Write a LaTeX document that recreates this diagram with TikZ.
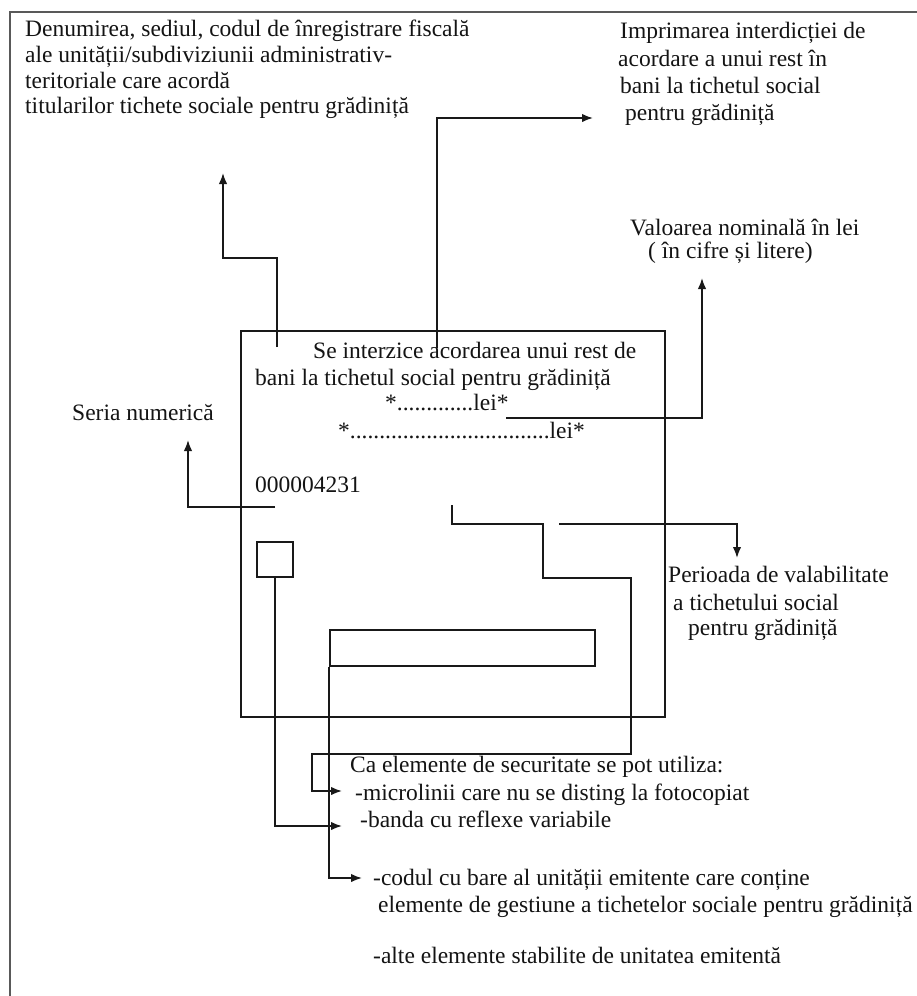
\documentclass[tikz,border=0pt]{standalone}
\usepackage{fontspec}
\setmainfont{Liberation Serif}
\usetikzlibrary{arrows.meta}
\begin{document}
\begin{tikzpicture}[x=1pt,y=-1pt,
  lbl/.style={anchor=west, inner sep=0pt, text height=16pt, text depth=5pt,
    font=\fontsize{23.5}{26}\selectfont, text=black!92},
  conn/.style={line width=1.7pt, draw=black!90, -{Latex[length=11pt,width=8.5pt]}},
  box/.style={draw=black!90, line width=1.7pt, inner sep=0pt}]
\useasboundingbox (0,0) rectangle (917,996);
\fill[white] (0,0) rectangle (917,996);
\draw[line width=2.2pt, black!65] (917,12) -- (10,12) -- (10,996);

% top-left block
\node[lbl] (a1) at (25,31) {Denumirea, sediul, codul de înregistrare fiscală};
\node[lbl] (a2) at (25,57) {ale unității/subdiviziunii administrativ-};
\node[lbl] (a3) at (25,83) {teritoriale care acordă};
\node[lbl] (a4) at (25,108) {titularilor tichete sociale pentru grădiniță};

% top-right block
\node[lbl] (b1) at (620,33) {Imprimarea interdicției de};
\node[lbl] (b2) at (618,61) {acordare a unui rest în};
\node[lbl] (b3) at (620,88) {bani la tichetul social};
\node[lbl] (b4) at (625,115) {pentru grădiniță};

% value
\node[lbl] (v1) at (630,230) {Valoarea nominală în lei};
\node[lbl] (v2) at (648,253) {( în cifre și litere)};

% card
\node[box, minimum width=424pt, minimum height=386pt] (card) at (453,524) {};
\node[box, minimum width=265pt, minimum height=36pt] (bc) at (462.5,648) {};
\node[box, minimum width=36pt, minimum height=35pt] (sq) at (275,559.5) {};

\node[lbl] (c1) at (313,353) {Se interzice acordarea unui rest de};
\node[lbl] (c2) at (255,380) {bani la tichetul social pentru grădiniță};
\node[lbl] (c3) at (385,405) {*.............lei*};
\node[lbl] (c4) at (338,433) {*..................................lei*};
\node[lbl] (c5) at (255,487) {000004231};

\node[lbl] (s1) at (72,415) {Seria numerică};

\node[lbl] (p1) at (668,577) {Perioada de valabilitate};
\node[lbl] (p2) at (673,605) {a tichetului social};
\node[lbl] (p3) at (688,630) {pentru grădiniță};

% bottom list
\node[lbl] (e1) at (350,767) {Ca elemente de securitate se pot utiliza:};
\node[lbl] (e2) at (355,795) {-microlinii care nu se disting la fotocopiat};
\node[lbl] (e3) at (360,822) {-banda cu reflexe variabile};
\node[lbl] (e4) at (373,880) {-codul cu bare al unității emitente care conține};
\node[lbl] (e5) at (378,907) {elemente de gestiune a tichetelor sociale pentru grădiniță};
\node[lbl] (e6) at (373,958) {-alte elemente stabilite de unitatea emitentă};

% connector end points
\coordinate (cA) at (277,347);  \coordinate (tA) at (223,173);
\coordinate (cB) at (437,348);  \coordinate (tB) at (593,118);
\coordinate (cC) at (506,418);  \coordinate (tC) at (702,278);
\coordinate (cD) at (275,507);  \coordinate (tD) at (188,440);
\coordinate (cE) at (559,524);  \coordinate (tE) at (737,558);
\coordinate (cF) at (452,505);  \coordinate (tF) at (342,791);
\coordinate (tG) at (342,826);
\coordinate (tH) at (362,878);

\draw[conn] (cA) -- (277,258) -| (tA);
\draw[conn] (cB) |- (tB);
\draw[conn] (cC) -| (tC);
\draw[conn] (cD) -| (tD);
\draw[conn] (cE) -| (tE);
\draw[conn] (cF) |- (543,524) |- (631,578) |- (312,754) |- (tF);
\draw[conn] (sq.south) |- (tG);
\draw[conn] (bc.south west) |- (tH);
\end{tikzpicture}
\end{document}
